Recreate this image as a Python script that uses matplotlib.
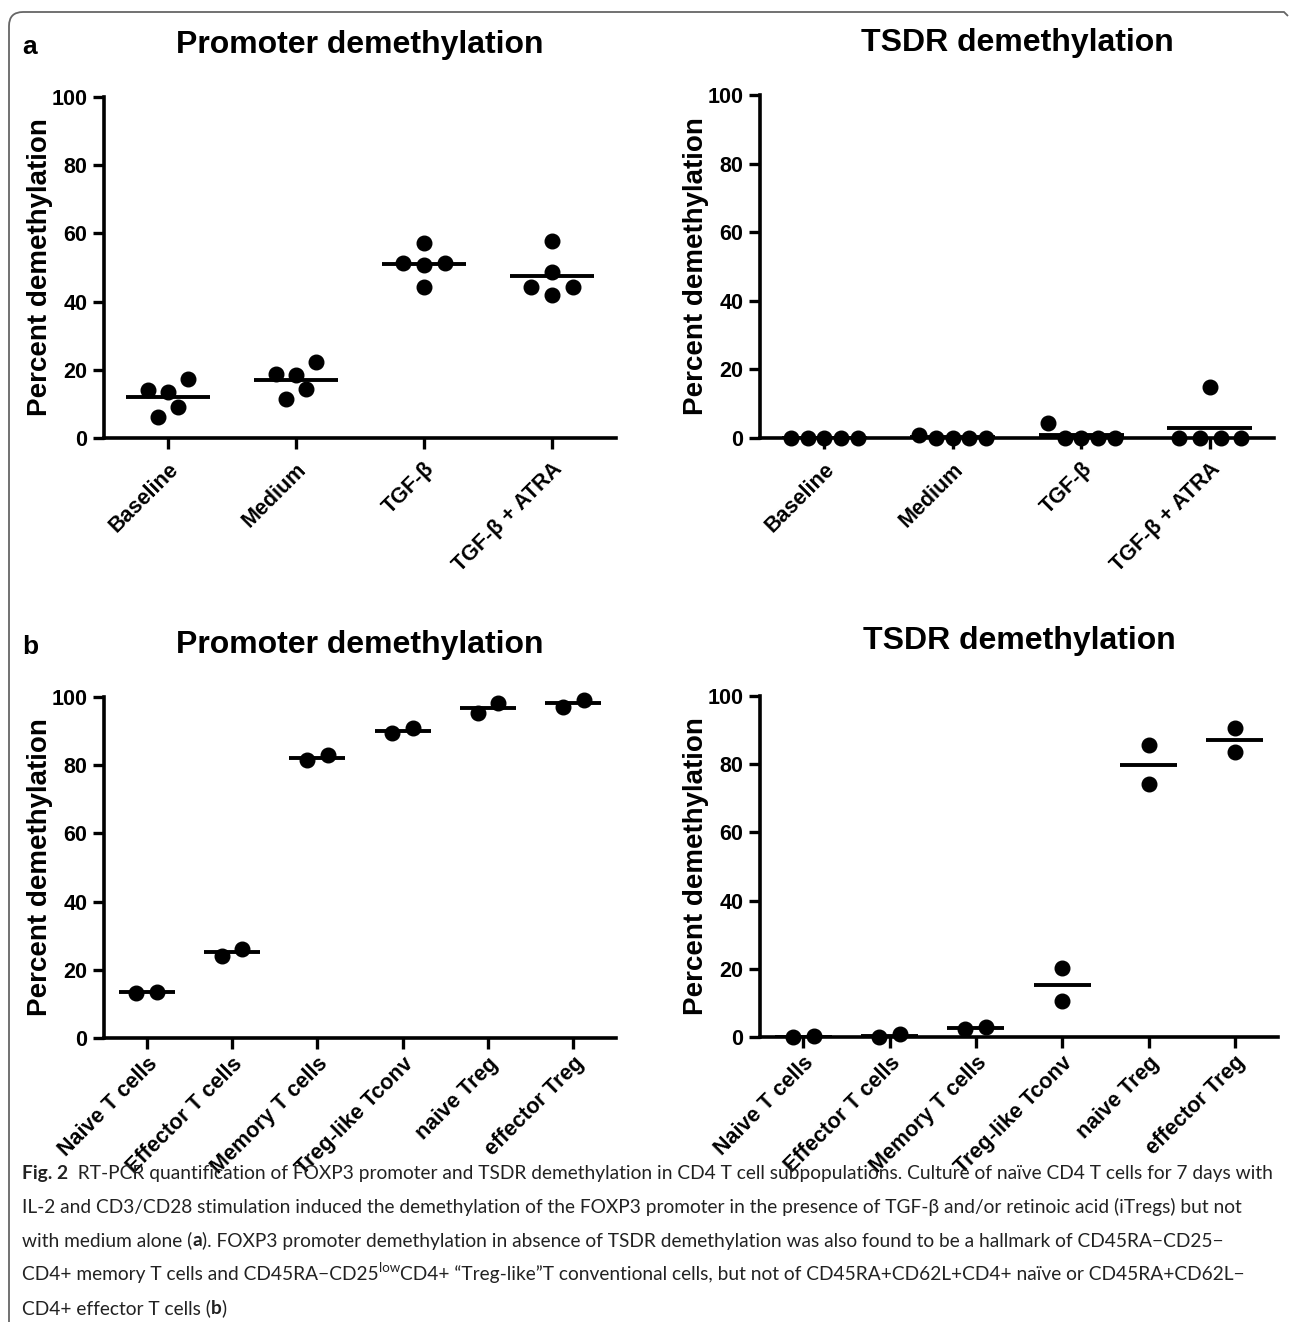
import numpy as np
import matplotlib
matplotlib.use("Agg")
import matplotlib.pyplot as plt
from matplotlib.path import Path
from matplotlib.patches import PathPatch

plt.rcParams['font.family'] = ['Liberation Sans', 'DejaVu Sans']

# ---- data ----
a_groups = ['Baseline', 'Medium', 'TGF-β', 'TGF-β + ATRA']
a_promoter = [
    [14.1, 6.2, 13.6, 9.0, 17.3],
    [18.7, 11.4, 18.5, 14.3, 22.3],
    [51.2, 57.1, 50.7, 44.2, 51.2],
    [44.2, 57.9, 48.8, 42.0, 44.2],
]
a_tsdr = [
    [0.0, 0.0, 0.0, 0.0, 0.0],
    [0.8, 0.0, 0.0, 0.0, 0.0],
    [4.4, 0.0, 0.0, 0.0, 0.0],
    [0.0, 0.0, 15.0, 0.0, 0.0],
]
b_groups = ['Naive T cells', 'Effector T cells', 'Memory T cells',
            'Treg-like Tconv', 'naive Treg', 'effector Treg']
b_promoter = [
    [13.3, 13.6],
    [24.1, 26.1],
    [81.4, 82.9],
    [89.3, 91.0],
    [95.4, 98.3],
    [97.1, 99.2],
]
b_tsdr = [
    [0.0, 0.2],
    [0.0, 0.8],
    [2.3, 2.9],
    [20.1, 10.6],
    [85.5, 74.2],
    [90.5, 83.7],
]

# horizontal scatter of the dots inside each group (layout only)
a_promoter_jitter = [[-0.16, -0.08, 0, 0.08, 0.16]] * 2 + [[-0.165, 0, 0, 0, 0.165]] * 2
a_tsdr_jitter = [[-0.26, -0.13, 0, 0.13, 0.26]] * 3 + [[-0.24, -0.075, 0.005, 0.09, 0.24]]
b_promoter_jitter = [[-0.12, 0.12]] * 6
b_tsdr_jitter = [[-0.12, 0.12]] * 3 + [[0, 0]] * 3

W, H = 1290, 1322
fig = plt.figure(figsize=(W / 100, H / 100), dpi=100)


def px_axes(x0, x1, ytop, ybot):
    return fig.add_axes([x0 / W, 1 - ybot / H, (x1 - x0) / W, (ybot - ytop) / H])


def dot_panel(ax, groups, values, jitter, title, title_y, xlab_size, xpad):
    n = len(groups)
    for i, (vals, jit) in enumerate(zip(values, jitter)):
        xs = [i + j for j in jit]
        ax.plot(xs, vals, 'o', ms=10.5, color='black', clip_on=False, zorder=3)
        ax.hlines(np.mean(vals), i - 0.33, i + 0.33, color='black', lw=2.8, zorder=4)
    ax.set_xlim(-0.5, n - 0.5)
    ax.set_ylim(0, 100)
    ax.spines['top'].set_visible(False)
    ax.spines['right'].set_visible(False)
    for s in ('left', 'bottom'):
        ax.spines[s].set_linewidth(2.6)
    ax.spines['left'].set_bounds(0, 100)
    ax.set_yticks([0, 20, 40, 60, 80, 100])
    ax.set_xticks(range(n))
    ax.set_xticklabels(groups, rotation=45, ha='right', rotation_mode='anchor',
                       fontsize=xlab_size, fontweight='bold')
    ax.tick_params(axis='both', direction='out', length=8, width=2.4, labelsize=15.5, pad=4)
    ax.tick_params(axis='x', pad=xpad)
    for lab in ax.get_yticklabels():
        lab.set_fontweight('bold')
    ax.set_ylabel('Percent demethylation', fontsize=20, fontweight='bold', labelpad=-1)
    bb = ax.get_position()
    fig.text(bb.x0 + bb.width / 2, 1 - title_y / H, title, ha='center', va='center',
             fontsize=23, fontweight='bold')


ax1 = px_axes(104, 616, 97, 438)
dot_panel(ax1, a_groups, a_promoter, a_promoter_jitter, 'Promoter demethylation', 45, 14, 7)
ax2 = px_axes(760, 1274, 95, 438)
dot_panel(ax2, a_groups, a_tsdr, a_tsdr_jitter, 'TSDR demethylation', 43, 14, 7)
ax3 = px_axes(104, 616, 697, 1038)
dot_panel(ax3, b_groups, b_promoter, b_promoter_jitter, 'Promoter demethylation', 645, 11.5, 3)
ax4 = px_axes(760, 1278, 696, 1037)
dot_panel(ax4, b_groups, b_tsdr, b_tsdr_jitter, 'TSDR demethylation', 641, 11.5, 3)

fig.text(22 / W, 1 - 47 / H, 'a', fontsize=19, fontweight='bold', va='center')
fig.text(22 / W, 1 - 647 / H, 'b', fontsize=19, fontweight='bold', va='center')

# caption, written piece by piece so bold and superscript parts can be mixed in
N, B, S = 'normal', 'bold', 'sup'
caption = [
    [('Fig. 2', B), ('  RT-PCR quantification of FOXP3 promoter and TSDR demethylation in CD4 T cell subpopulations. '
                     'Culture of naïve CD4 T cells for 7 days with', N)],
    [('IL-2 and CD3/CD28 stimulation induced the demethylation of the FOXP3 promoter in the presence of '
      'TGF-β and/or retinoic acid (iTregs) but not', N)],
    [('with medium alone (', N), ('a', B), ('). FOXP3 promoter demethylation in absence of TSDR demethylation '
                                          'was also found to be a hallmark of CD45RA−CD25−', N)],
    [('CD4+ memory T cells and CD45RA−CD25', N), ('low', S),
     ('CD4+ “Treg-like”T conventional cells, but not of CD45RA+CD62L+CD4+ naïve or CD45RA+CD62L−', N)],
    [('CD4+ effector T cells (', N), ('b', B), (')', N)],
]
cap_size = 13.75
renderer = fig.canvas.get_renderer()
for k, parts in enumerate(caption):
    x = 22
    y = H - (1173 + k * 33.8)
    for txt, kind in parts:
        kw = dict(family='Lato', color='#222222', va='center', ha='left', fontsize=cap_size)
        yy = y
        if kind == B:
            kw['fontweight'] = 'bold'
        elif kind == S:
            kw['fontsize'] = cap_size * 0.7
            yy = y + 6
        t = fig.text(x / W, yy / H, txt, **kw)
        x += t.get_window_extent(renderer).width

# frame
frame = Path([(9, H), (9, 26), (9, 12), (23, 12), (1284, 12), (1288, 16)],
             [Path.MOVETO, Path.LINETO, Path.CURVE3, Path.CURVE3, Path.LINETO, Path.LINETO])
verts = [(x / W, 1 - y / H) for x, y in frame.vertices]
fig.add_artist(PathPatch(Path(verts, frame.codes), transform=fig.transFigure,
                         fill=False, edgecolor='#666666', lw=1.3))

fig.savefig('out.png', dpi=100)
